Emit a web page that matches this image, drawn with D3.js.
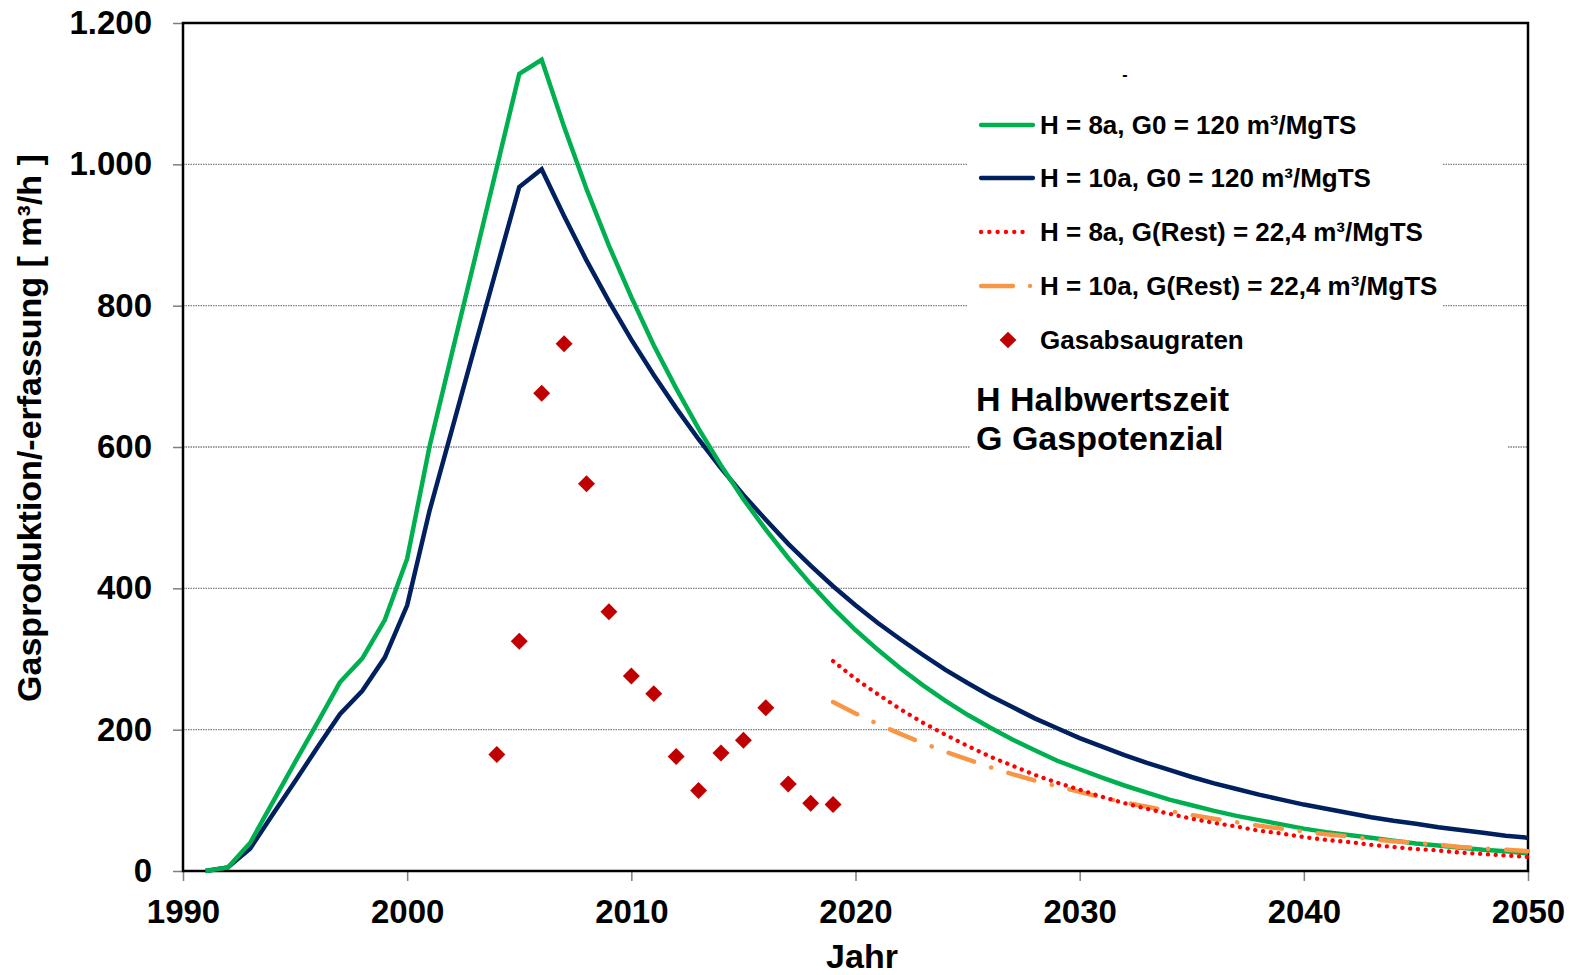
<!DOCTYPE html>
<html>
  <head>
    <title>Gasproduktion</title>
    <meta charset="utf-8">
    <style>
      body {
        margin: 0;
        background-color: white;
      }

      svg {
        display: block;
        font-family: "Liberation Sans", Arial, sans-serif;
        font-weight: bold;
      }

      .axis text {
        font: bold 33px "Liberation Sans", Arial, sans-serif;
        fill: #000;
      }

      .axis path {
        display: none;
      }

      .axis line {
        stroke: #7f7f7f;
        stroke-width: 1.5;
      }

      .grid line {
        stroke: #808080;
        stroke-width: 1.4;
        stroke-dasharray: 1.5,1;
      }

      .frame {
        fill: none;
        stroke: #000;
        stroke-width: 2.5;
      }

      .legendText {
        font: bold 26px "Liberation Sans", Arial, sans-serif;
        fill: #000;
      }

      .noteText {
        font: bold 34px "Liberation Sans", Arial, sans-serif;
        fill: #000;
      }

      .axisTitle {
        font: bold 34px "Liberation Sans", Arial, sans-serif;
        fill: #000;
      }
    </style>
  </head>
  <body>
  <svg class="chart"></svg>
  <script src="https://cdn.jsdelivr.net/npm/d3@7"></script>
  <script>

  // data
  var years = [1991, 1992, 1993, 1994, 1995, 1996, 1997, 1998, 1999, 2000,
    2001, 2002, 2003, 2004, 2005, 2006, 2007, 2008, 2009, 2010,
    2011, 2012, 2013, 2014, 2015, 2016, 2017, 2018, 2019, 2020,
    2021, 2022, 2023, 2024, 2025, 2026, 2027, 2028, 2029, 2030,
    2031, 2032, 2033, 2034, 2035, 2036, 2037, 2038, 2039, 2040,
    2041, 2042, 2043, 2044, 2045, 2046, 2047, 2048, 2049, 2050];

  var green8a = [0, 5, 40, 97, 154, 210, 267, 301, 355, 442,
    601, 733, 864, 996, 1128, 1148, 1053, 965, 885, 812,
    744, 683, 626, 574, 526, 483, 443, 406, 372, 341,
    313, 287, 263, 241, 221, 203, 186, 171, 156, 144,
    132, 121, 111, 101, 93, 85, 78, 72, 66, 60,
    55, 51, 47, 43, 39, 36, 33, 30, 28, 25];

  var blue10a = [0, 5, 32, 80, 127, 175, 222, 255, 302, 376,
    510, 625, 740, 854, 968, 993, 927, 864, 806, 752,
    702, 655, 611, 570, 532, 497, 463, 432, 403, 376,
    351, 328, 306, 285, 266, 248, 232, 216, 202, 188,
    176, 164, 153, 143, 133, 124, 116, 108, 101, 94,
    88, 82, 76, 71, 67, 62, 58, 54, 50, 47];

  var restYears = [2019, 2020, 2021, 2022, 2023, 2024, 2025, 2026, 2027, 2028,
    2029, 2030, 2031, 2032, 2033, 2034, 2035, 2036, 2037, 2038,
    2039, 2040, 2041, 2042, 2043, 2044, 2045, 2046, 2047, 2048, 2049, 2050];

  var red8aRest = [297, 272, 250, 229, 210, 193, 177, 162, 149, 136,
    125, 115, 105, 96, 88, 81, 74, 68, 63, 57,
    53, 48, 44, 41, 37, 34, 31, 29, 26, 24, 22, 20];

  var orange10aRest = [239, 223, 208, 194, 181, 169, 158, 147, 137, 128,
    120, 112, 104, 97, 91, 85, 79, 74, 69, 64,
    60, 56, 52, 49, 45, 42, 40, 37, 34, 32, 30, 28];

  var pointYears = [2004, 2005, 2006, 2007, 2008, 2009, 2010, 2011, 2012,
    2013, 2014, 2015, 2016, 2017, 2018, 2019];
  var pointValues = [165, 325, 676, 746, 548, 367, 276, 251, 162,
    114, 167, 185, 231, 123, 96, 94];

  var xTicks = [1990, 2000, 2010, 2020, 2030, 2040, 2050];
  var yTicks = [0, 200, 400, 600, 800, 1000, 1200];

  var legendLabels = ["H = 8a, G0 = 120 m\u00b3/MgTS",
    "H = 10a, G0 = 120 m\u00b3/MgTS",
    "H = 8a, G(Rest) = 22,4 m\u00b3/MgTS",
    "H = 10a, G(Rest) = 22,4 m\u00b3/MgTS",
    "Gasabsaugraten"];

  var colors = {green: '#00B050', blue: '#002060', red: '#FF0000', orange: '#F79646', marker: '#C00000'};

  var width = 1577, height = 975;
  var plot = {left: 183, right: 1528, top: 23, bottom: 871};

  var de = d3.formatLocale({decimal: ",", thousands: ".", grouping: [3], currency: ["", "\u20ac"]});

  var svg = d3.select("svg")
    .attr("width", width)
    .attr("height", height);

  var x = d3.scaleLinear()
    .domain([1990, 2050])
    .range([plot.left, plot.right]);

  var y = d3.scaleLinear()
    .domain([0, 1200])
    .range([plot.bottom, plot.top]);

  // gridlines
  svg.append("g")
    .attr("class", "grid")
    .selectAll("line")
    .data(yTicks.filter(function(d) { return d > 0 && d < 1200; }))
    .enter().append("line")
    .attr("x1", plot.left)
    .attr("x2", plot.right)
    .attr("y1", function(d) { return y(d); })
    .attr("y2", function(d) { return y(d); });

  // white boxes behind legend and note (they hide the gridlines)
  svg.append("rect")
    .attr("x", 967).attr("y", 95)
    .attr("width", 476).attr("height", 270)
    .style("fill", "white");
  svg.append("rect")
    .attr("x", 970).attr("y", 375)
    .attr("width", 538).attr("height", 90)
    .style("fill", "white");

  // axes
  svg.append("g")
    .attr("class", "y axis")
    .attr("transform", "translate(" + plot.left + ",0)")
    .call(d3.axisLeft(y).tickValues(yTicks).tickSize(10).tickPadding(21).tickFormat(de.format(",")));

  svg.append("g")
    .attr("class", "x axis")
    .attr("transform", "translate(0," + plot.bottom + ")")
    .call(d3.axisBottom(x).tickValues(xTicks).tickSize(10).tickPadding(19).tickFormat(d3.format("d")));

  // frame
  svg.append("rect")
    .attr("class", "frame")
    .attr("x", plot.left)
    .attr("y", plot.top)
    .attr("width", plot.right - plot.left)
    .attr("height", plot.bottom - plot.top);

  var line = d3.line()
    .x(function(d) { return x(d[0]); })
    .y(function(d) { return y(d[1]); });

  function pairs(xs, ys) {
    return xs.map(function(v, i) { return [v, ys[i]]; });
  }

  svg.append("path")
    .datum(pairs(years, blue10a))
    .attr("d", line)
    .style("fill", "none")
    .style("stroke", colors.blue)
    .style("stroke-width", 4.5)
    .style("stroke-linejoin", "miter");

  svg.append("path")
    .datum(pairs(years, green8a))
    .attr("d", line)
    .style("fill", "none")
    .style("stroke", colors.green)
    .style("stroke-width", 4.5)
    .style("stroke-linejoin", "miter");

  svg.append("path")
    .datum(pairs(restYears, orange10aRest))
    .attr("d", line)
    .style("fill", "none")
    .style("stroke", colors.orange)
    .style("stroke-width", 4.5)
    .style("stroke-linecap", "round")
    .style("stroke-dasharray", "27,18,0.1,18");

  svg.append("path")
    .datum(pairs(restYears, red8aRest))
    .attr("d", line)
    .style("fill", "none")
    .style("stroke", colors.red)
    .style("stroke-width", 4.3)
    .style("stroke-linecap", "round")
    .style("stroke-dasharray", "0.1,7.7");

  var diamond = d3.symbol().type(d3.symbolSquare).size(144);

  svg.append("g")
    .selectAll("path")
    .data(pairs(pointYears, pointValues))
    .enter().append("path")
    .attr("d", diamond)
    .attr("transform", function(d) { return "translate(" + x(d[0]) + "," + y(d[1]) + ") rotate(45)"; })
    .style("fill", colors.marker);

  // legend
  var legendY = [125, 178, 232, 286, 340];
  var legend = svg.append("g");

  legend.selectAll("text")
    .data(legendLabels)
    .enter().append("text")
    .attr("class", "legendText")
    .attr("x", 1040)
    .attr("y", function(d, i) { return legendY[i]; })
    .attr("dy", "0.36em")
    .text(function(d) { return d; });

  var swatch = [
    {color: colors.green, dash: null, x2: 1033},
    {color: colors.blue, dash: null, x2: 1033},
    {color: colors.red, dash: "0.1,8.2", x2: 1030},
    {color: colors.orange, dash: "32,17,0.1,20", x2: 1033}
  ];

  legend.selectAll("line")
    .data(swatch)
    .enter().append("line")
    .attr("x1", 981)
    .attr("x2", function(d) { return d.x2; })
    .attr("y1", function(d, i) { return legendY[i]; })
    .attr("y2", function(d, i) { return legendY[i]; })
    .style("stroke", function(d) { return d.color; })
    .style("stroke-width", 4.3)
    .style("stroke-linecap", "round")
    .style("stroke-dasharray", function(d) { return d.dash; });

  legend.append("path")
    .attr("d", d3.symbol().type(d3.symbolSquare).size(140))
    .attr("transform", "translate(1008," + legendY[4] + ") rotate(45)")
    .style("fill", colors.marker);

  svg.append("text")
    .attr("x", 1125).attr("y", 80)
    .style("font", "bold 16px 'Liberation Sans', Arial, sans-serif")
    .style("text-anchor", "middle")
    .text("-");

  svg.append("text")
    .attr("class", "noteText")
    .attr("x", 976).attr("y", 411)
    .text("H Halbwertszeit");

  svg.append("text")
    .attr("class", "noteText")
    .attr("x", 976).attr("y", 450)
    .text("G Gaspotenzial");

  // axis titles
  svg.append("text")
    .attr("class", "axisTitle")
    .attr("x", 862)
    .attr("y", 968)
    .style("text-anchor", "middle")
    .text("Jahr");

  svg.append("text")
    .attr("class", "axisTitle")
    .attr("transform", "translate(41,428) rotate(-90)")
    .style("text-anchor", "middle")
    .text("Gasproduktion/-erfassung [ m\u00b3/h ]");

  </script>
  </body>
</html>
